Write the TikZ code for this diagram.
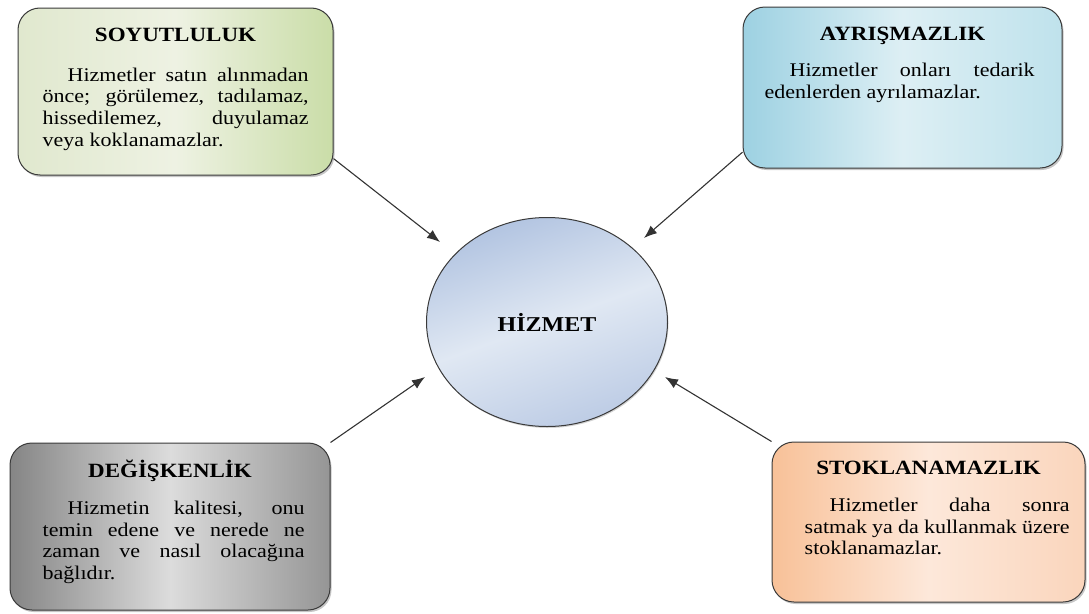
\documentclass[tikz,border=0pt]{standalone}
\usepackage{fontspec}
\setmainfont{Liberation Serif}
\usepackage{graphicx}
\usetikzlibrary{arrows.meta,shadows,backgrounds,shapes.geometric}
\definecolor{boxline}{HTML}{3A3A3A}
\definecolor{arrowc}{HTML}{333333}
\definecolor{grnA}{HTML}{E0E8CE}
\definecolor{grnM}{HTML}{EEF2E3}
\definecolor{grnB}{HTML}{CADDA8}
\definecolor{bluA}{HTML}{9DD1E2}
\definecolor{bluM}{HTML}{DDEFF4}
\definecolor{bluB}{HTML}{BFE2EC}
\definecolor{gryA}{HTML}{858585}
\definecolor{gryM}{HTML}{DCDCDC}
\definecolor{gryB}{HTML}{959595}
\definecolor{orgA}{HTML}{F8C198}
\definecolor{orgM}{HTML}{FDE8DA}
\definecolor{orgB}{HTML}{FAD5BC}
\definecolor{cirA}{HTML}{B2C4E1}
\definecolor{cirM}{HTML}{E0E8F3}
\definecolor{cirB}{HTML}{BDCCE5}
\newcommand{\vsq}[1]{\scalebox{1}[0.88]{#1}}
\newcommand{\bodytext}[2]{\vsq{\parbox[t]{#1}{\fontsize{22}{24.66}\selectfont\parindent=25pt\hyphenpenalty=10000\exhyphenpenalty=10000 #2}}}
\begin{document}
\begin{tikzpicture}[x=1pt,y=1pt,
  box/.style={draw=boxline, line width=1pt, rounded corners=22pt, inner sep=0pt,
    drop shadow={shadow xshift=1.5pt, shadow yshift=-2pt, opacity=0.45}},
  ttl/.style={anchor=base, inner sep=0pt, font=\fontsize{23}{25}\selectfont\bfseries},
  bdy/.style={anchor=base west, inner sep=0pt},
  arr/.style={draw=arrowc, line width=1.1pt, -{Latex[length=13pt,width=10pt]}}]
\useasboundingbox (0,0) rectangle (1089,-613);

% boxes
\node[box, minimum width=315pt, minimum height=167pt,
  left color=grnA, right color=grnB, middle color=grnM] (b1) at (175.5,-91.5) {};
\node[box, minimum width=319pt, minimum height=161pt,
  left color=bluA, right color=bluB, middle color=bluM] (b2) at (902.5,-87.5) {};
\node[box, minimum width=320pt, minimum height=167pt,
  left color=gryA, right color=gryB, middle color=gryM] (b3) at (170,-526.5) {};
\node[box, minimum width=313pt, minimum height=160pt,
  left color=orgA, right color=orgB, middle color=orgM] (b4) at (928.5,-522) {};

% centre
\node[draw=boxline, line width=1pt, ellipse, minimum width=241pt, minimum height=209pt,
  inner sep=0pt, left color=cirA, right color=cirB, middle color=cirM, shading angle=20,
  drop shadow={shadow xshift=1pt, shadow yshift=-1.5pt, opacity=0.35}] (c) at (547,-322)
  {\vsq{\fontsize{24}{26}\selectfont\bfseries HİZMET}};

% titles
\node[ttl] (h1) at ([yshift=-34pt]b1.north) {\vsq{SOYUTLULUK}};
\node[ttl] (h2) at ([yshift=-33.7pt]b2.north) {\vsq{AYRIŞMAZLIK}};
\node[ttl] (h3) at ([yshift=-35pt]b3.north) {\vsq{DEĞİŞKENLİK}};
\node[ttl] (h4) at ([yshift=-33pt]b4.north) {\vsq{STOKLANAMAZLIK}};

% body texts
\node[bdy] (p1) at ([xshift=25pt,yshift=-73.7pt]b1.north west)
  {\bodytext{266pt}{Hizmetler satın alınmadan\linebreak önce; görülemez, tadılamaz,\linebreak hissedilemez, duyulamaz\linebreak veya koklanamazlar.}};
\node[bdy] (p2) at ([xshift=22pt,yshift=-70pt]b2.north west)
  {\bodytext{270pt}{Hizmetler onları tedarik\linebreak edenlerden ayrılamazlar.}};
\node[bdy] (p3) at ([xshift=33pt,yshift=-72pt]b3.north west)
  {\bodytext{262pt}{Hizmetin kalitesi, onu\linebreak temin edene ve nerede ne\linebreak zaman ve nasıl olacağına\linebreak bağlıdır.}};
\node[bdy] (p4) at ([xshift=33pt,yshift=-70pt]b4.north west)
  {\bodytext{265pt}{Hizmetler daha sonra\linebreak satmak ya da kullanmak üzere\linebreak stoklanamazlar.}};

% arrow tips
\coordinate (t1) at (440,-242);
\coordinate (t2) at (644,-238);
\coordinate (t3) at (425,-377);
\coordinate (t4) at (665,-377);

\begin{scope}[on background layer]
\draw[arr] (b1.-23) -- (t1);
\draw[arr] (b2.202) -- (t2);
\draw[arr] (b3.north east) -- (t3);
\draw[arr] (b4.north west) -- (t4);
\end{scope}
\end{tikzpicture}
\end{document}
